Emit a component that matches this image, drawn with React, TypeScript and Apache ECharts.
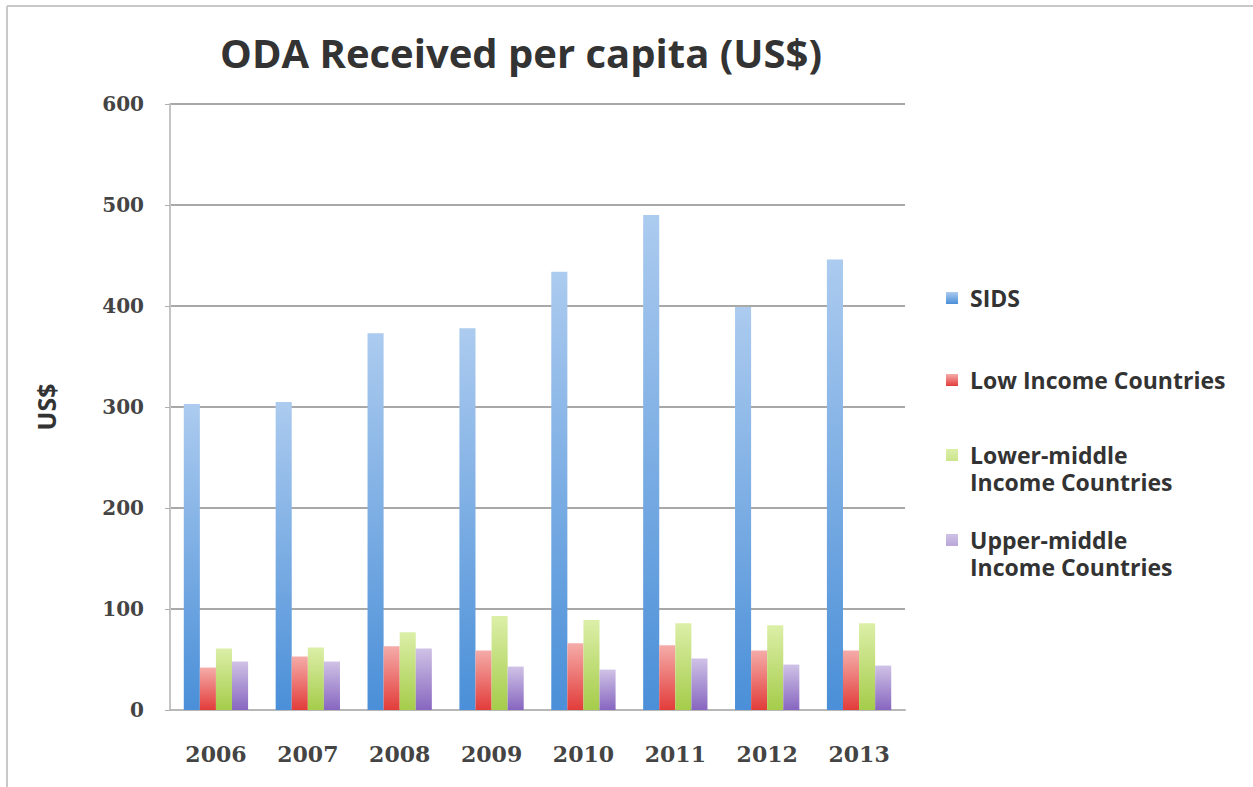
import React, { useEffect, useRef } from "react";
import * as echarts from "echarts";

const years = ["2006", "2007", "2008", "2009", "2010", "2011", "2012", "2013"];
const sids = [303, 305, 373, 378, 434, 490, 399, 446];
const lowIncome = [42, 53, 63, 59, 66, 64, 59, 59];
const lowerMiddle = [61, 62, 77, 93, 89, 86, 84, 86];
const upperMiddle = [48, 48, 61, 43, 40, 51, 45, 44];
const yTicks = [0, 100, 200, 300, 400, 500, 600];

const seriesNames = [
  "SIDS",
  "Low Income Countries",
  "Lower-middle Income Countries",
  "Upper-middle Income Countries",
];
const legendLabels = [
  "SIDS",
  "Low Income Countries",
  "Lower-middle\nIncome Countries",
  "Upper-middle\nIncome Countries",
];

const grad = (top: string, bottom: string) =>
  new echarts.graphic.LinearGradient(0, 0, 0, 1, [
    { offset: 0, color: top },
    { offset: 1, color: bottom },
  ]);

export default function App() {
  const ref = useRef<HTMLDivElement>(null);
  useEffect(() => {
    if (!ref.current) return;
    const chart = echarts.init(ref.current, null, { renderer: "svg" });
    const fills = [
      grad("#accbef", "#4a8fd8"),
      grad("#f5aca9", "#e23c3a"),
      grad("#dcefa8", "#a5cc4a"),
      grad("#cfc2e6", "#8766c0"),
    ];
    const iconColors = ["#5d9ad8", "#e05c5c", "#b9d66c", "#9c84c8"];
    const LH = 27;
    const SQ = 12;
    const IW = 19;
    const legendCenters = [298, 380, 455, 540];
    const values = [sids, lowIncome, lowerMiddle, upperMiddle];
    chart.setOption({
      animation: false,
      backgroundColor: "#ffffff",
      color: iconColors,
      title: {
        text: "ODA Received per capita (US$)",
        left: 516,
        textAlign: "center",
        top: 27,
        textStyle: {
          fontFamily: "Open Sans",
          fontWeight: "bold",
          fontSize: 40,
          color: "#333333",
        },
      },
      legend: seriesNames.map((name, i) => {
        const two = i >= 2;
        const ih = two ? SQ + LH : SQ;
        return {
          data: [name],
          orient: "vertical",
          left: 946,
          top: legendCenters[i] - (two ? 0.5 * LH : 0.5 * LH),
          padding: 0,
          icon: `path://M0,0L${SQ},0L${SQ},${SQ}L0,${SQ}Z M${IW},${ih}L${IW},${ih}`,
          itemWidth: IW,
          itemHeight: ih,
          itemGap: 0,
          selectedMode: false,
          formatter: () => legendLabels[i],
          textStyle: {
            fontFamily: "Open Sans",
            fontWeight: "bold",
            fontSize: 23,
            lineHeight: LH,
            color: "#333333",
          },
        };
      }),
      grid: { left: 170, right: 348, top: 104, bottom: 77 },
      xAxis: {
        type: "category",
        data: years,
        axisLine: { lineStyle: { color: "#b8b8b8", width: 2 } },
        axisTick: { show: false },
        axisLabel: {
          margin: 33,
          fontFamily: "DejaVu Serif",
          fontWeight: "bold",
          fontSize: 22,
          color: "#444444",
        },
      },
      yAxis: {
        type: "value",
        min: yTicks[0],
        max: yTicks[yTicks.length - 1],
        interval: 100,
        name: "US$",
        nameLocation: "middle",
        nameGap: 112,
        nameRotate: 90,
        nameTextStyle: {
          fontFamily: "Open Sans",
          fontWeight: "bold",
          fontSize: 25,
          color: "#333333",
        },
        axisLine: { show: true, lineStyle: { color: "#c4c4c4", width: 2 } },
        axisTick: { show: true, length: 5, lineStyle: { color: "#b0b0b0" } },
        splitLine: { lineStyle: { color: "#a8a8a8", width: 2 } },
        axisLabel: {
          margin: 26,
          fontFamily: "DejaVu Serif",
          fontWeight: "bold",
          fontSize: 20,
          color: "#444444",
        },
      },
      series: seriesNames.map((name, i) => ({
        name,
        type: "bar",
        data: values[i],
        barGap: "0%",
        barCategoryGap: "30%",
        itemStyle: { color: fills[i] },
        emphasis: { disabled: true },
      })),
      graphic: [
        {
          type: "line",
          shape: { x1: 7, y1: 6, x2: 1253, y2: 6 },
          style: { stroke: "#c8c8c8", lineWidth: 2 },
        },
        {
          type: "line",
          shape: { x1: 7, y1: 6, x2: 7, y2: 787 },
          style: { stroke: "#c8c8c8", lineWidth: 2 },
        },
      ],
    });
    return () => chart.dispose();
  }, []);
  return (
    <div
      ref={ref}
      style={{ position: "absolute", left: 0, top: 0, width: 1253, height: 787 }}
    />
  );
}
